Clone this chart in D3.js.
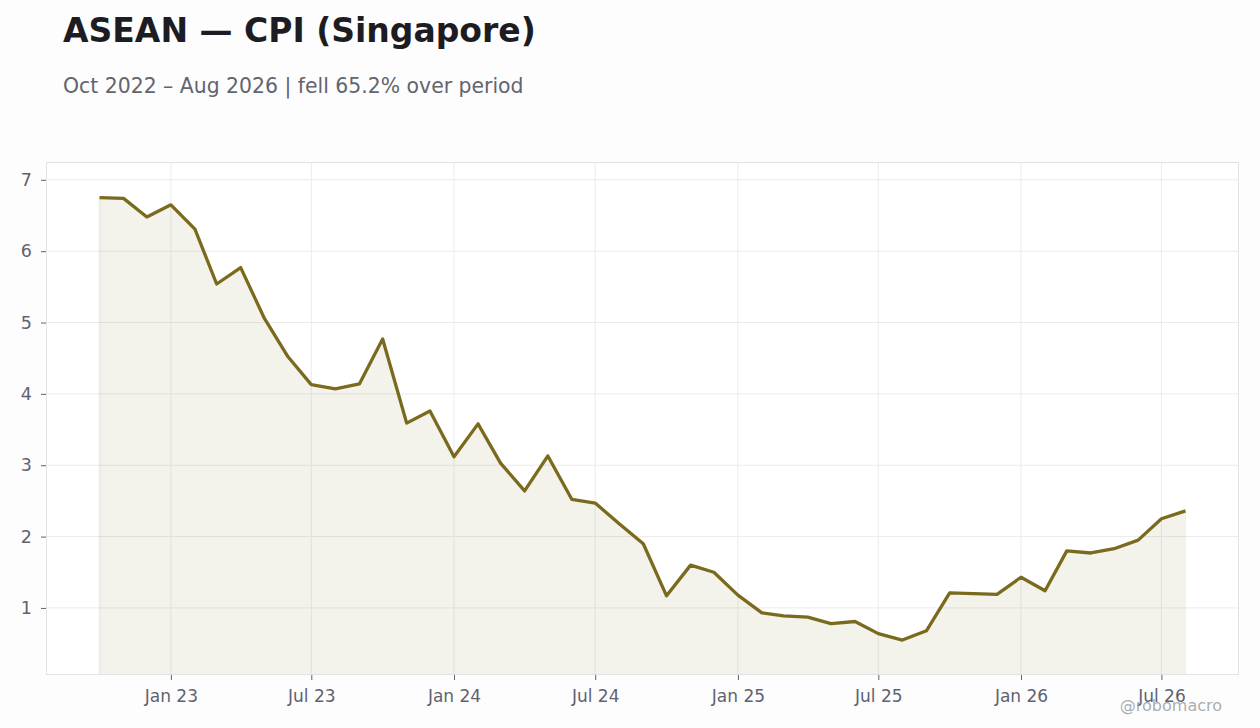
<!DOCTYPE html>
<html>
<head>
<meta charset="utf-8">
<script src="https://cdn.jsdelivr.net/npm/d3@7"></script>
<style>
  html, body { margin: 0; padding: 0; background: #fdfdfd; }
  svg { display: block; font-family: "DejaVu Sans", sans-serif; }
</style>
</head>
<body>
<svg id="chart" width="1260" height="728"></svg>
<script>
const title = "ASEAN — CPI (Singapore)";
const subtitle = "Oct 2022 – Aug 2026 | fell 65.2% over period";
const watermark = "@robomacro";

const startMonth = "2022-10";
const values = [
  6.75, 6.74, 6.48, 6.65, 6.31, 5.54, 5.77, 5.07, 4.52,
  4.13, 4.07, 4.14, 4.77, 3.59, 3.76, 3.12, 3.58, 3.03,
  2.64, 3.13, 2.52, 2.47, 2.18, 1.90, 1.17, 1.60, 1.50,
  1.18, 0.93, 0.89, 0.87, 0.78, 0.81, 0.64, 0.55, 0.68,
  1.21, 1.20, 1.19, 1.43, 1.24, 1.80, 1.77, 1.83, 1.95,
  2.25, 2.36
];
const yTicks = [1, 2, 3, 4, 5, 6, 7];
const xTickDates = ["2023-01-01", "2023-07-01", "2024-01-01", "2024-07-01", "2025-01-01", "2025-07-01", "2026-01-01", "2026-07-01"];
const xDomain = ["2022-07-24", "2026-10-09"];
const yDomain = [0.06, 7.25];

const parseDay = d3.timeParse("%Y-%m-%d");
const parseMonth = d3.timeParse("%Y-%m");
const start = parseMonth(startMonth);
const data = values.map((v, i) => ({ date: d3.timeMonth.offset(start, i), value: v }));

const svg = d3.select("#chart");
const plot = { left: 46, right: 1239, top: 162, bottom: 675 };

const x = d3.scaleTime().domain(xDomain.map(parseDay)).range([plot.left, plot.right]);
const y = d3.scaleLinear().domain(yDomain).range([plot.bottom, plot.top]);

// plot background
svg.append("rect")
  .attr("x", plot.left).attr("y", plot.top)
  .attr("width", plot.right - plot.left).attr("height", plot.bottom - plot.top)
  .attr("fill", "#ffffff");

// grid
const grid = svg.append("g");
grid.selectAll("line.gy").data(yTicks).enter().append("line")
  .attr("x1", plot.left).attr("x2", plot.right)
  .attr("y1", d => y(d)).attr("y2", d => y(d))
  .attr("stroke", "#ebebeb").attr("stroke-width", 1);
grid.selectAll("line.gx").data(xTickDates.map(parseDay)).enter().append("line")
  .attr("y1", plot.top).attr("y2", plot.bottom)
  .attr("x1", d => x(d)).attr("x2", d => x(d))
  .attr("stroke", "#ebebeb").attr("stroke-width", 1);

// area fill
const area = d3.area()
  .x(d => x(d.date))
  .y0(plot.bottom)
  .y1(d => y(d.value));
svg.append("path").datum(data)
  .attr("d", area)
  .attr("fill", "#7a6a1e")
  .attr("fill-opacity", 0.09)
  .attr("stroke", "none");

// edges of fill
svg.append("line")
  .attr("x1", x(data[0].date)).attr("x2", x(data[0].date))
  .attr("y1", y(data[0].value)).attr("y2", plot.bottom)
  .attr("stroke", "#7a6a1e").attr("stroke-opacity", 0.08).attr("stroke-width", 2);
svg.append("line")
  .attr("x1", x(data[data.length-1].date)).attr("x2", x(data[data.length-1].date))
  .attr("y1", y(data[data.length-1].value)).attr("y2", plot.bottom)
  .attr("stroke", "#7a6a1e").attr("stroke-opacity", 0.06).attr("stroke-width", 1);

// line
const line = d3.line().x(d => x(d.date)).y(d => y(d.value));
svg.append("path").datum(data)
  .attr("d", line)
  .attr("fill", "none")
  .attr("stroke", "#7a6a1e")
  .attr("stroke-width", 3.3)
  .attr("stroke-linejoin", "round");

// border
svg.append("rect")
  .attr("x", plot.left + 0.5).attr("y", plot.top + 0.5)
  .attr("width", plot.right - plot.left - 1).attr("height", plot.bottom - plot.top - 1)
  .attr("fill", "none").attr("stroke", "#e2e2e2").attr("stroke-width", 1);

// axes
const yAxis = d3.axisLeft(y).tickValues(yTicks).tickSize(5).tickPadding(9).tickFormat(d3.format("d"));
const gy = svg.append("g").attr("transform", `translate(${plot.left},0)`).call(yAxis);
gy.select(".domain").remove();
gy.selectAll(".tick line").attr("stroke", "#5f6270");
gy.selectAll(".tick text").attr("fill", "#5f6270").style("font-size", "17.5px").style("font-family", "DejaVu Sans");

const xAxis = d3.axisBottom(x).tickValues(xTickDates.map(parseDay)).tickSize(5).tickPadding(10).tickFormat(d3.timeFormat("%b %y"));
const gx = svg.append("g").attr("transform", `translate(0,${plot.bottom})`).call(xAxis);
gx.select(".domain").remove();
gx.selectAll(".tick line").attr("stroke", "#5f6270");
gx.selectAll(".tick text").attr("fill", "#5f6270").style("font-size", "17px").style("font-family", "DejaVu Sans");

// titles
svg.append("text").attr("x", 63).attr("y", 42)
  .attr("fill", "#1c1c22").style("font-size", "33px").style("font-weight", "bold")
  .text(title);
svg.append("text").attr("x", 63).attr("y", 93)
  .attr("fill", "#62646e").style("font-size", "20.4px")
  .text(subtitle);

// watermark
svg.append("text").attr("x", 1222).attr("y", 711)
  .attr("text-anchor", "end")
  .attr("fill", "#9a9ca4").attr("fill-opacity", 0.85).style("font-size", "16px")
  .text(watermark);
</script>
</body>
</html>
